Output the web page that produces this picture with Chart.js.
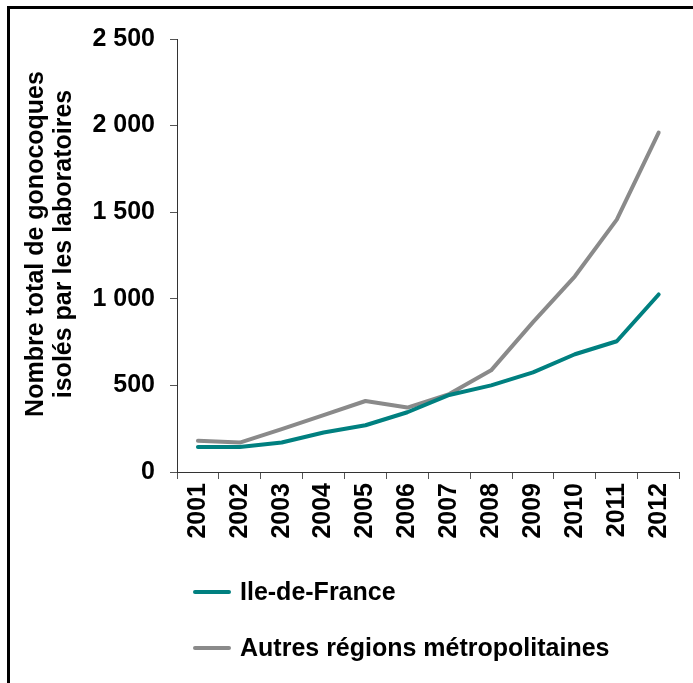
<!DOCTYPE html>
<html>
<head>
<meta charset="utf-8">
<script src="https://cdn.jsdelivr.net/npm/chart.js@4/dist/chart.umd.min.js"></script>
<style>
  html, body { margin: 0; padding: 0; background: #fff; }
  #wrap { position: relative; width: 693px; height: 683px; overflow: hidden; }
  #frame { position: absolute; left: 7px; top: 6px; right: 0; bottom: 0;
           border-left: 3px solid #000; border-top: 3px solid #000; }
  #c { position: absolute; left: 0; top: 0; }
</style>
</head>
<body>
<div id="wrap">
  <div id="frame"></div>
  <canvas id="c" width="693" height="683"></canvas>
</div>
<script>
// Gonococcal isolates reported by laboratories, 2001-2012
const years = ['2001', '2002', '2003', '2004', '2005', '2006', '2007', '2008', '2009', '2010', '2011', '2012'];
const ileDeFrance = [145, 145, 170, 228, 270, 345, 445, 500, 575, 680, 755, 1025];
const autresRegions = [180, 170, 248, 328, 410, 372, 450, 587, 865, 1130, 1457, 1960];
const yTickValues = [0, 500, 1000, 1500, 2000, 2500];
const yTitle = ['Nombre total de gonocoques', 'isolés par les laboratoires'];

const FONT = "'Liberation Sans', Arial, sans-serif";
const TEAL = '#008080';
const GREY = '#8a8a8a';

// thousands separated by a space: 2 500
const fmt = v => String(v).replace(/\B(?=(\d{3})+(?!\d))/g, ' ');

// rotated two-line title of the value axis
const axisTitle = {
  id: 'axisTitle',
  afterDraw(chart) {
    const ctx = chart.ctx;
    ctx.save();
    ctx.translate(50, 244);
    ctx.rotate(-Math.PI / 2);
    ctx.fillStyle = '#000';
    ctx.font = 'bold 25px ' + FONT;
    ctx.textAlign = 'center';
    ctx.textBaseline = 'middle';
    yTitle.forEach((t, i) => ctx.fillText(t, 0, (i - 0.5) * 28));
    ctx.restore();
  }
};

// legend drawn as two stacked rows under the x axis
const legendRows = {
  id: 'legendRows',
  afterDraw(chart) {
    const ctx = chart.ctx;
    ctx.save();
    chart.data.datasets.forEach((ds, i) => {
      const y = 592 + i * 56;
      ctx.strokeStyle = ds.borderColor;
      ctx.lineWidth = 4;
      ctx.lineCap = 'round';
      ctx.beginPath();
      ctx.moveTo(195, y);
      ctx.lineTo(229, y);
      ctx.stroke();
      ctx.fillStyle = '#000';
      ctx.font = 'bold 25px ' + FONT;
      ctx.textBaseline = 'middle';
      ctx.textAlign = 'left';
      ctx.fillText(ds.label, 240, y + 1);
    });
    ctx.restore();
  }
};

new Chart(document.getElementById('c'), {
  type: 'line',
  data: {
    labels: years,
    datasets: [
      { label: 'Ile-de-France', data: ileDeFrance, borderColor: TEAL, backgroundColor: TEAL,
        borderWidth: 4, pointRadius: 0, tension: 0, borderCapStyle: 'round', borderJoinStyle: 'round' },
      { label: 'Autres régions métropolitaines', data: autresRegions, borderColor: GREY, backgroundColor: GREY,
        borderWidth: 4, pointRadius: 0, tension: 0, borderCapStyle: 'round', borderJoinStyle: 'round' }
    ]
  },
  options: {
    responsive: false,
    animation: false,
    layout: { padding: { top: 39, right: 8, bottom: 0, left: 0 } },
    plugins: {
      legend: { display: false },
      tooltip: { enabled: false }
    },
    scales: {
      x: {
        offset: true,
        grid: { offset: true, drawOnChartArea: false, drawTicks: true, tickLength: 7, color: '#555', lineWidth: 1 },
        border: { display: true, color: '#333', width: 1 },
        ticks: { minRotation: 90, maxRotation: 90, padding: 4, color: '#000',
                 font: { family: FONT, size: 25, weight: 'bold' } },
        afterFit(scale) { scale.height = 211; }
      },
      y: {
        min: 0,
        max: 2500,
        afterBuildTicks(scale) { scale.ticks = yTickValues.map(v => ({ value: v })); },
        grid: { drawOnChartArea: false, drawTicks: true, tickLength: 7, color: '#555', lineWidth: 1 },
        border: { display: true, color: '#333', width: 1 },
        ticks: { padding: 15, color: '#000', callback: v => fmt(v),
                 font: { family: FONT, size: 25, weight: 'bold' } },
        afterFit(scale) { scale.width = 177; }
      }
    }
  },
  plugins: [legendRows, axisTitle]
});
</script>
</body>
</html>
